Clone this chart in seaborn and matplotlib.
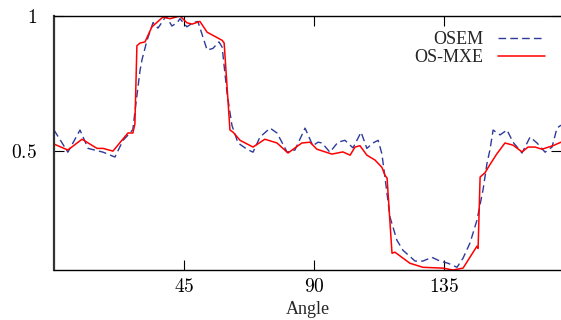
import numpy as np
import pandas as pd
import matplotlib
matplotlib.use("Agg")
import matplotlib.pyplot as plt
import seaborn as sns

# angle (deg) / normalised value
osem_angle = [0, 4.8, 9.0, 11.8, 17.0, 21.1, 23.9, 26.3, 27.3, 28.4, 29.8, 30.5, 32.2,
              34.3, 36.0, 38.8, 40.8, 42.6, 43.6, 46.0, 48.1, 49.8, 53.0, 55.0, 57.1,
              58.2, 59.9, 61.6, 63.7, 66.8, 68.9, 71.3, 74.8, 77.2, 80.7, 83.4, 86.9,
              89.6, 91.4, 92.8, 95.5, 98.3, 100.7, 103.5, 106.3, 108.3, 110.4, 112.2,
              113.5, 114.6, 116.3, 118.7, 120.8, 125.0, 127.7, 130.8, 133.6, 136.4,
              139.5, 141.6, 144.0, 146.4, 148.5, 149.9, 150.9, 152.0, 154.4, 156.8,
              158.9, 162.0, 164.8, 167.2, 170.0, 172.4, 174.1, 175.5]
osem_value = [0.578, 0.496, 0.578, 0.51, 0.496, 0.478, 0.54, 0.567, 0.58, 0.68, 0.80,
              0.84, 0.91, 0.976, 0.955, 1.0, 0.963, 0.975, 0.99, 0.96, 0.975, 0.98,
              0.874, 0.88, 0.904, 0.885, 0.715, 0.595, 0.53, 0.507, 0.496, 0.552,
              0.585, 0.567, 0.496, 0.504, 0.585, 0.52, 0.533, 0.53, 0.496, 0.533, 0.54,
              0.512, 0.57, 0.51, 0.53, 0.54, 0.49, 0.40, 0.256, 0.17, 0.133, 0.093,
              0.093, 0.107, 0.093, 0.085, 0.07, 0.104, 0.16, 0.244, 0.356, 0.456,
              0.504, 0.578, 0.56, 0.578, 0.533, 0.493, 0.552, 0.53, 0.496, 0.515,
              0.585, 0.596]

mxe_angle = [0, 4.8, 9.7, 14.9, 17.0, 20.4, 23.5, 25.6, 27.3, 28.0, 28.7, 29.8, 31.5,
             33.9, 37.7, 40.2, 43.6, 46.0, 47.8, 50.5, 53.0, 58.2, 58.9, 60.9, 62.0,
             64.4, 68.9, 73.0, 77.2, 81.0, 85.8, 88.6, 91.0, 96.2, 100.0, 102.5,
             104.2, 105.9, 108.3, 111.1, 113.5, 114.6, 115.3, 117.0, 118.0, 123.2,
             127.7, 134.6, 138.1, 141.6, 146.4, 146.8, 147.5, 149.2, 150.9, 153.3,
             156.1, 158.9, 162.0, 164.1, 166.5, 168.9, 172.7, 175.5]
mxe_value = [0.526, 0.504, 0.544, 0.51, 0.51, 0.50, 0.54, 0.567, 0.567, 0.60, 0.89,
             0.90, 0.904, 0.96, 0.996, 0.99, 1.0, 0.975, 0.97, 0.98, 0.94, 0.91, 0.90,
             0.578, 0.57, 0.54, 0.515, 0.544, 0.53, 0.493, 0.53, 0.533, 0.507, 0.489,
             0.497, 0.485, 0.515, 0.52, 0.485, 0.467, 0.44, 0.41, 0.40, 0.122, 0.126,
             0.085, 0.07, 0.067, 0.06, 0.067, 0.148, 0.14, 0.404, 0.42, 0.45, 0.49,
             0.53, 0.522, 0.497, 0.515, 0.515, 0.507, 0.52, 0.533]

x_ticks = [45, 90, 135]
y_ticks = [0.5, 1]

sns.set_theme(style="white")
plt.rcParams["font.family"] = ["Liberation Serif", "DejaVu Serif"]
plt.rcParams["mathtext.fontset"] = "cm"

fig = plt.figure(figsize=(5.61, 3.20), dpi=100)
ax = fig.add_axes([54 / 561, 50 / 320, 507 / 561, 254 / 320])

sns.lineplot(x=osem_angle, y=osem_value, ax=ax, sort=False, color="#2e3a9a",
             linewidth=1.0, dashes=False, label="OSEM")
ax.lines[-1].set_dashes([5.5, 3])
sns.lineplot(x=mxe_angle, y=mxe_value, ax=ax, sort=False, color="#ff0000",
             linewidth=1.1, label="OS-MXE")

ax.set_xlim(0, 175.5)
ax.set_ylim(0.06, 1.0)
ax.set_xticks(x_ticks)
ax.set_xticklabels([f"${t}$" for t in x_ticks], fontsize=14)
ax.set_yticks(y_ticks)
ax.set_yticklabels([f"${t}$" for t in y_ticks], fontsize=14)
ax.tick_params(axis="x", direction="in", length=7, width=0.8, top=True, bottom=True,
               pad=6, colors="black")
ax.tick_params(axis="y", direction="in", length=7, width=0.8, left=True, right=True,
               pad=12, colors="black")
for s in ["top", "bottom"]:
    ax.spines[s].set_color("black")
    ax.spines[s].set_linewidth(1.0)
ax.spines["left"].set_color("#333333")
ax.spines["left"].set_linewidth(1.6)
ax.spines["right"].set_visible(False)

# reference crops this label at the bottom edge; keep it just inside
ax.set_xlabel("Angle", fontsize=13, labelpad=3.5)
ax.set_ylabel("")

leg = ax.legend(loc="upper right", bbox_to_anchor=(0.968, 0.94), frameon=False,
                markerfirst=False, fontsize=13, handlelength=2.6, handletextpad=0.8,
                labelspacing=0.05, borderpad=0, borderaxespad=0)

fig.savefig("out.png", dpi=100)
